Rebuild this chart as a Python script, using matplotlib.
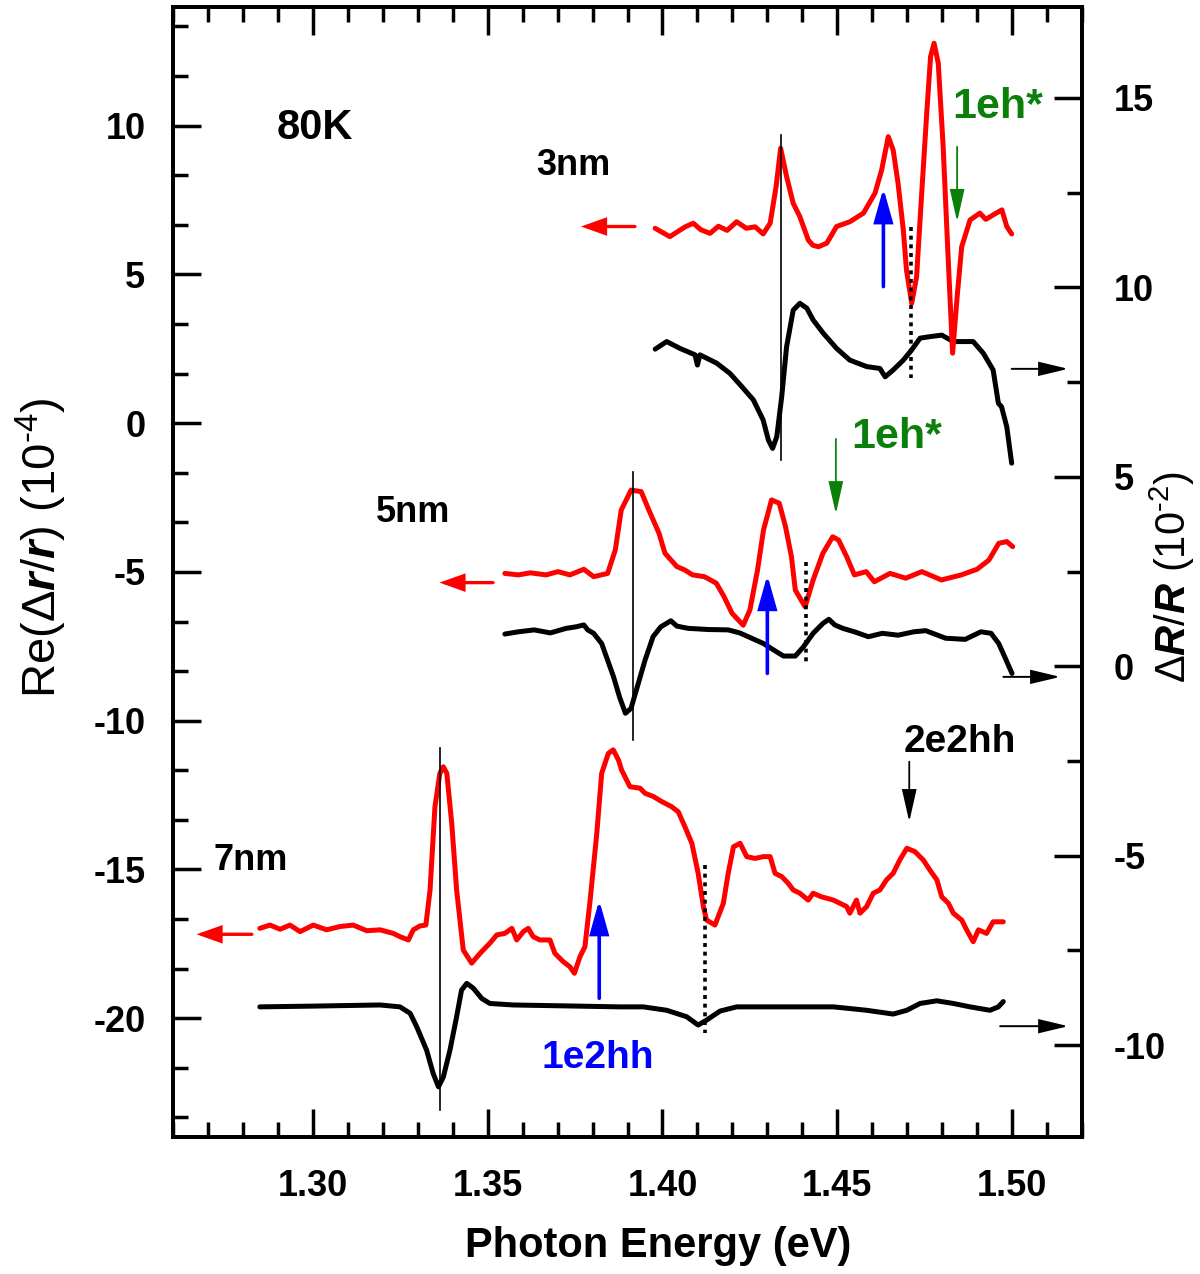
import matplotlib
matplotlib.use('Agg')
import matplotlib.pyplot as plt
from matplotlib.ticker import MultipleLocator, FormatStrFormatter

plt.rcParams['font.family'] = ['Liberation Sans', 'DejaVu Sans']
plt.rcParams['axes.unicode_minus'] = False
plt.rcParams['mathtext.fontset'] = 'custom'
plt.rcParams['mathtext.rm'] = 'Liberation Sans'
plt.rcParams['mathtext.it'] = 'Liberation Sans:italic:bold'
plt.rcParams['mathtext.bf'] = 'Liberation Sans:bold'

# ---------------- data (photon energy in eV) ----------------
# 3 nm, Re(dr/r) (1e-4), left axis
e3_red = [1.3979, 1.4021, 1.4045, 1.4065, 1.4088, 1.4110, 1.4136, 1.4160, 1.4185, 1.4212,
          1.4240, 1.4265, 1.4288, 1.4308, 1.4325, 1.4338, 1.4355, 1.4374, 1.4393, 1.4417,
          1.4430, 1.4446, 1.4470, 1.4498, 1.4536, 1.4575, 1.4608, 1.4627, 1.4646, 1.4660,
          1.4674, 1.4689, 1.4698, 1.4713, 1.4727, 1.4741, 1.4756, 1.4767, 1.4777, 1.4789,
          1.4803, 1.4818, 1.4830, 1.4843, 1.4856, 1.4880, 1.4908, 1.4925, 1.4946, 1.4971,
          1.4985, 1.4999]
r3_red = [6.55, 6.27, 6.45, 6.60, 6.72, 6.50, 6.38, 6.62, 6.48, 6.77,
          6.55, 6.60, 6.36, 6.72, 7.95, 9.24, 8.29, 7.39, 6.94, 6.16,
          5.98, 5.93, 6.05, 6.61, 6.77, 7.06, 7.73, 8.51, 9.63, 9.18,
          8.06, 6.49, 5.15, 4.03, 4.92, 7.61, 10.42, 12.32, 12.77, 12.10,
          9.29, 5.37, 2.35, 4.25, 5.93, 6.83, 7.06, 6.85, 7.00, 7.17,
          6.61, 6.36]
# 3 nm, dR/R (1e-2), right axis
e3_blk = [1.3979, 1.4012, 1.4050, 1.4093, 1.4100, 1.4107, 1.4155, 1.4193, 1.4227, 1.4260,
          1.4288, 1.4303, 1.4315, 1.4327, 1.4341, 1.4355, 1.4374, 1.4393, 1.4413, 1.4431,
          1.4460, 1.4498, 1.4536, 1.4584, 1.4622, 1.4637, 1.4660, 1.4689, 1.4713, 1.4737,
          1.4765, 1.4799, 1.4832, 1.4889, 1.4918, 1.4946, 1.4961, 1.4970, 1.4985, 1.4999]
r3_blk = [8.37, 8.57, 8.39, 8.22, 7.95, 8.22, 8.00, 7.73, 7.38, 7.03,
          6.50, 5.97, 5.75, 6.06, 7.11, 8.43, 9.40, 9.58, 9.45, 9.14,
          8.79, 8.39, 8.08, 7.91, 7.86, 7.64, 7.82, 8.08, 8.35, 8.66,
          8.70, 8.74, 8.57, 8.57, 8.26, 7.82, 6.94, 6.85, 6.32, 5.36]

# 5 nm
e5_red = [1.3549, 1.3588, 1.3622, 1.3667, 1.3701, 1.3735, 1.3775, 1.3803, 1.3843, 1.3865,
          1.3882, 1.3910, 1.3939, 1.3961, 1.3990, 1.4007, 1.4041, 1.4063, 1.4086, 1.4120,
          1.4154, 1.4176, 1.4199, 1.4231, 1.4250, 1.4272, 1.4289, 1.4312, 1.4334, 1.4352,
          1.4369, 1.4380, 1.4397, 1.4408, 1.4431, 1.4459, 1.4487, 1.4504, 1.4527, 1.4549,
          1.4583, 1.4606, 1.4651, 1.4696, 1.4742, 1.4798, 1.4855, 1.4900, 1.4934, 1.4962,
          1.4985, 1.5002]
r5_red = [-5.05, -5.10, -5.03, -5.10, -4.99, -5.10, -4.91, -5.16, -5.05, -4.26,
          -2.92, -2.25, -2.30, -2.92, -3.70, -4.37, -4.82, -4.93, -5.10, -5.16,
          -5.38, -5.83, -6.39, -6.79, -6.28, -4.93, -3.59, -2.58, -2.69, -3.48,
          -4.49, -5.61, -5.95, -6.17, -5.27, -4.37, -3.82, -3.93, -4.49, -5.10,
          -4.99, -5.33, -5.05, -5.21, -4.99, -5.27, -5.10, -4.91, -4.60, -4.04,
          -3.98, -4.15]
e5_blk = [1.3549, 1.3588, 1.3633, 1.3679, 1.3724, 1.3752, 1.3775, 1.3786, 1.3803, 1.3826,
          1.3843, 1.3860, 1.3877, 1.3894, 1.3910, 1.3928, 1.3950, 1.3973, 1.3995, 1.4024,
          1.4041, 1.4074, 1.4131, 1.4188, 1.4221, 1.4255, 1.4289, 1.4318, 1.4346, 1.4380,
          1.4403, 1.4431, 1.4459, 1.4476, 1.4493, 1.4516, 1.4549, 1.4589, 1.4629, 1.4674,
          1.4719, 1.4753, 1.4810, 1.4866, 1.4911, 1.4940, 1.4962, 1.4979, 1.5000]
r5_blk = [0.85, 0.91, 0.96, 0.88, 1.00, 1.04, 1.09, 0.96, 0.87, 0.60,
          0.16, -0.28, -0.81, -1.24, -1.11, -0.54, 0.16, 0.78, 1.04, 1.20,
          1.06, 1.00, 0.97, 0.96, 0.88, 0.74, 0.60, 0.43, 0.27, 0.27,
          0.51, 0.87, 1.13, 1.24, 1.09, 1.00, 0.91, 0.78, 0.87, 0.82,
          0.91, 0.94, 0.74, 0.71, 0.91, 0.87, 0.60, 0.25, -0.19]

# 7 nm
e7_red = [1.2848, 1.2877, 1.2906, 1.2934, 1.2963, 1.3001, 1.3039, 1.3077, 1.3115, 1.3154,
          1.3192, 1.3230, 1.3249, 1.3273, 1.3287, 1.3306, 1.3323, 1.3335, 1.3349, 1.3363,
          1.3373, 1.3383, 1.3397, 1.3411, 1.3430, 1.3454, 1.3478, 1.3506, 1.3526, 1.3549,
          1.3569, 1.3583, 1.3602, 1.3616, 1.3630, 1.3649, 1.3678, 1.3692, 1.3716, 1.3735,
          1.3748, 1.3764, 1.3778, 1.3793, 1.3812, 1.3826, 1.3845, 1.3859, 1.3874, 1.3883,
          1.3907, 1.3936, 1.3950, 1.3974, 1.3998, 1.4026, 1.4045, 1.4064, 1.4084, 1.4102,
          1.4117, 1.4126, 1.4150, 1.4174, 1.4188, 1.4203, 1.4222, 1.4241, 1.4265, 1.4288,
          1.4308, 1.4322, 1.4341, 1.4360, 1.4374, 1.4393, 1.4417, 1.4431, 1.4455, 1.4489,
          1.4527, 1.4536, 1.4555, 1.4565, 1.4584, 1.4603, 1.4622, 1.4641, 1.4660, 1.4679,
          1.4699, 1.4722, 1.4746, 1.4765, 1.4785, 1.4799, 1.4818, 1.4832, 1.4856, 1.4870,
          1.4889, 1.4904, 1.4927, 1.4946, 1.4975]
r7_red = [-16.98, -16.87, -17.01, -16.87, -17.09, -16.87, -17.03, -16.92, -16.87, -17.06,
          -17.03, -17.15, -17.26, -17.37, -17.03, -16.90, -16.87, -15.69, -12.89, -11.77,
          -11.55, -11.77, -13.45, -15.69, -17.71, -18.15, -17.82, -17.48, -17.20, -17.15,
          -16.98, -17.37, -17.09, -16.98, -17.26, -17.37, -17.37, -17.82, -18.10, -18.27,
          -18.49, -17.93, -17.60, -16.03, -13.79, -11.77, -11.10, -10.98, -11.32, -11.66,
          -12.22, -12.27, -12.44, -12.55, -12.72, -12.89, -13.06, -13.56, -14.12, -15.13,
          -16.25, -16.70, -16.87, -16.14, -15.13, -14.24, -14.12, -14.57, -14.63, -14.57,
          -14.57, -15.13, -15.24, -15.47, -15.69, -15.80, -16.03, -15.80, -15.92, -16.03,
          -16.25, -16.47, -16.03, -16.47, -16.25, -15.80, -15.69, -15.35, -15.13, -14.68,
          -14.29, -14.40, -14.68, -15.02, -15.35, -15.92, -16.14, -16.47, -16.70, -17.03,
          -17.43, -17.03, -17.15, -16.76, -16.76]
e7_blk = [1.2848, 1.3001, 1.3192, 1.3249, 1.3278, 1.3297, 1.3325, 1.3344, 1.3359, 1.3373,
          1.3392, 1.3411, 1.3425, 1.3440, 1.3459, 1.3483, 1.3506, 1.3573, 1.3878, 1.3945,
          1.4012, 1.4069, 1.4102, 1.4126, 1.4165, 1.4212, 1.4346, 1.4489, 1.4584, 1.4660,
          1.4699, 1.4737, 1.4785, 1.4832, 1.4880, 1.4937, 1.4961, 1.4975]
r7_blk = [-8.99, -8.97, -8.94, -8.99, -9.16, -9.52, -10.13, -10.75, -11.10, -10.84,
          -10.13, -9.25, -8.55, -8.37, -8.50, -8.77, -8.90, -8.94, -8.99, -8.99,
          -9.08, -9.25, -9.47, -9.34, -9.10, -8.99, -8.99, -8.99, -9.08, -9.18,
          -9.08, -8.90, -8.83, -8.90, -8.99, -9.08, -8.99, -8.85]

# marker lines (energy, y-from, y-to), left-axis units
vlines_solid = [(1.4338, 9.69, -1.24), (1.3915, -1.63, -10.65), (1.3363, -10.93, -23.09)]
vlines_dot = [(1.4711, 6.61, 1.51), (1.4411, -4.65, -8.07), (1.4122, -14.85, -20.51)]

# ---------------- figure ----------------
fig = plt.figure(figsize=(12, 12.74), dpi=100)
ax = fig.add_axes([0.1443, 0.10738, 0.7573, 0.8874])
ax2 = ax.twinx()
ax.set_zorder(ax2.get_zorder() + 1)
ax.patch.set_visible(False)

LW = 3.6
for e, r in [(e3_blk, r3_blk), (e5_blk, r5_blk), (e7_blk, r7_blk)]:
    ax2.plot(e, r, color='black', lw=LW, solid_joinstyle='round', solid_capstyle='round')
for e, r in [(e3_red, r3_red), (e5_red, r5_red), (e7_red, r7_red)]:
    ax.plot(e, r, color='#ff0000', lw=LW, solid_joinstyle='round', solid_capstyle='round')

for x, y0, y1 in vlines_solid:
    ax.plot([x, x], [y0, y1], color='black', lw=1.2, zorder=5)
for x, y0, y1 in vlines_dot:
    ax.plot([x, x], [y0, y1], color='black', lw=2.6, linestyle=(0, (1.1, 1.3)), zorder=5)

ax.set_xlim(1.26, 1.52)
ax.set_ylim(-24, 14)
ax2.set_ylim(-12.43, 17.41)

ax.xaxis.set_major_locator(MultipleLocator(0.05))
ax.xaxis.set_minor_locator(MultipleLocator(0.01))
ax.xaxis.set_major_formatter(FormatStrFormatter('%.2f'))
ax.yaxis.set_major_locator(MultipleLocator(5))
ax.yaxis.set_minor_locator(MultipleLocator(5 / 3))
ax2.yaxis.set_major_locator(MultipleLocator(5))
ax2.yaxis.set_minor_locator(MultipleLocator(2.5))

TICKFS = 26
ax.tick_params(axis='x', which='both', direction='in', top=True, bottom=True, width=2.5,
               labelsize=TICKFS, pad=23)
ax.tick_params(axis='y', which='both', direction='in', left=True, right=False, width=2.5,
               labelsize=TICKFS, pad=20)
ax.tick_params(which='major', length=20)
ax.tick_params(which='minor', length=11)
ax2.tick_params(axis='y', which='both', direction='in', width=2.5, labelsize=TICKFS, pad=23)
ax2.tick_params(which='major', length=20)
ax2.tick_params(which='minor', length=11)
for lab in ax.get_xticklabels() + ax.get_yticklabels() + ax2.get_yticklabels():
    lab.set_fontweight('bold')
for a in (ax, ax2):
    for s in a.spines.values():
        s.set_linewidth(2.8)


def arrow(axis, tail, tip, color, lw, hl, hw):
    axis.annotate('', xy=tip, xytext=tail, xycoords='data', textcoords='data',
                  annotation_clip=False,
                  arrowprops=dict(arrowstyle=f'-|>,head_length={hl},head_width={hw}',
                                  color=color, lw=lw, shrinkA=0, shrinkB=0,
                                  mutation_scale=1, joinstyle='miter'))


# left-pointing red arrows (left axis)
for (x0, x1, y) in [(1.3921, 1.3767, 6.61), (1.3515, 1.3362, -5.36), (1.2825, 1.2667, -17.18)]:
    arrow(ax, (x0, y), (x1, y), '#ff0000', 2.4, 14, 5.0)
# right-pointing black arrows (right axis)
for (x0, x1, y) in [(1.4999, 1.5161, 7.85), (1.4975, 1.5138, -0.28), (1.4966, 1.5161, -9.50)]:
    arrow(ax2, (x0, y), (x1, y), 'black', 1.4, 18, 4.3)
# blue up arrows
for (x, y0, y1) in [(1.4632, 4.59, 7.90), (1.4300, -8.41, -5.10), (1.3819, -19.33, -16.03)]:
    arrow(ax, (x, y0), (x, y1), '#0000ff', 2.6, 20, 5.6)
# green down arrows
for (x, y0, y1) in [(1.4843, 9.29, 6.77), (1.4496, -0.53, -3.05)]:
    arrow(ax, (x, y0), (x, y1), '#0a800a', 1.3, 20, 4.5)
# black down arrow (2e2hh)
arrow(ax, (1.4706, -11.38), (1.4706, -13.40), 'black', 1.3, 20, 4.5)

GREEN = '#0a800a'
txt = dict(ha='center', va='baseline', fontweight='bold')
ax.text(1.3006, 9.55, '80K', fontsize=30, color='black', **txt)
ax.text(1.3744, 8.34, '3nm', fontsize=26, color='black', **txt)
ax.text(1.3286, -3.31, '5nm', fontsize=26, color='black', **txt)
ax.text(1.2823, -15.02, '7nm', fontsize=26, color='black', **txt)
ax.text(1.4960, 10.25, '1eh*', fontsize=31, color=GREEN, **txt)
ax.text(1.4670, -0.83, '1eh*', fontsize=31, color=GREEN, **txt)
ax.text(1.4851, -11.04, '2e2hh', fontsize=28, color='black', **txt)
ax.text(1.3815, -21.68, '1e2hh', fontsize=28, color='#0000ff', **txt)

fig.text(658 / 1200, 1 - 1246 / 1274, 'Photon Energy (eV)', ha='center', va='center',
         fontsize=30, fontweight='bold')
fig.text(41 / 1200, 1 - 548 / 1274, r'Re($\Delta$$r/r$) (10$^{\text{-}4}$)', ha='center',
         va='center', rotation=90, fontsize=34)
fig.text(1172 / 1200, 1 - 577 / 1274, r'$\Delta$$R/R$ (10$^{\text{-}2}$)', ha='center',
         va='center', rotation=90, fontsize=30)

fig.savefig('out.png', dpi=100)
